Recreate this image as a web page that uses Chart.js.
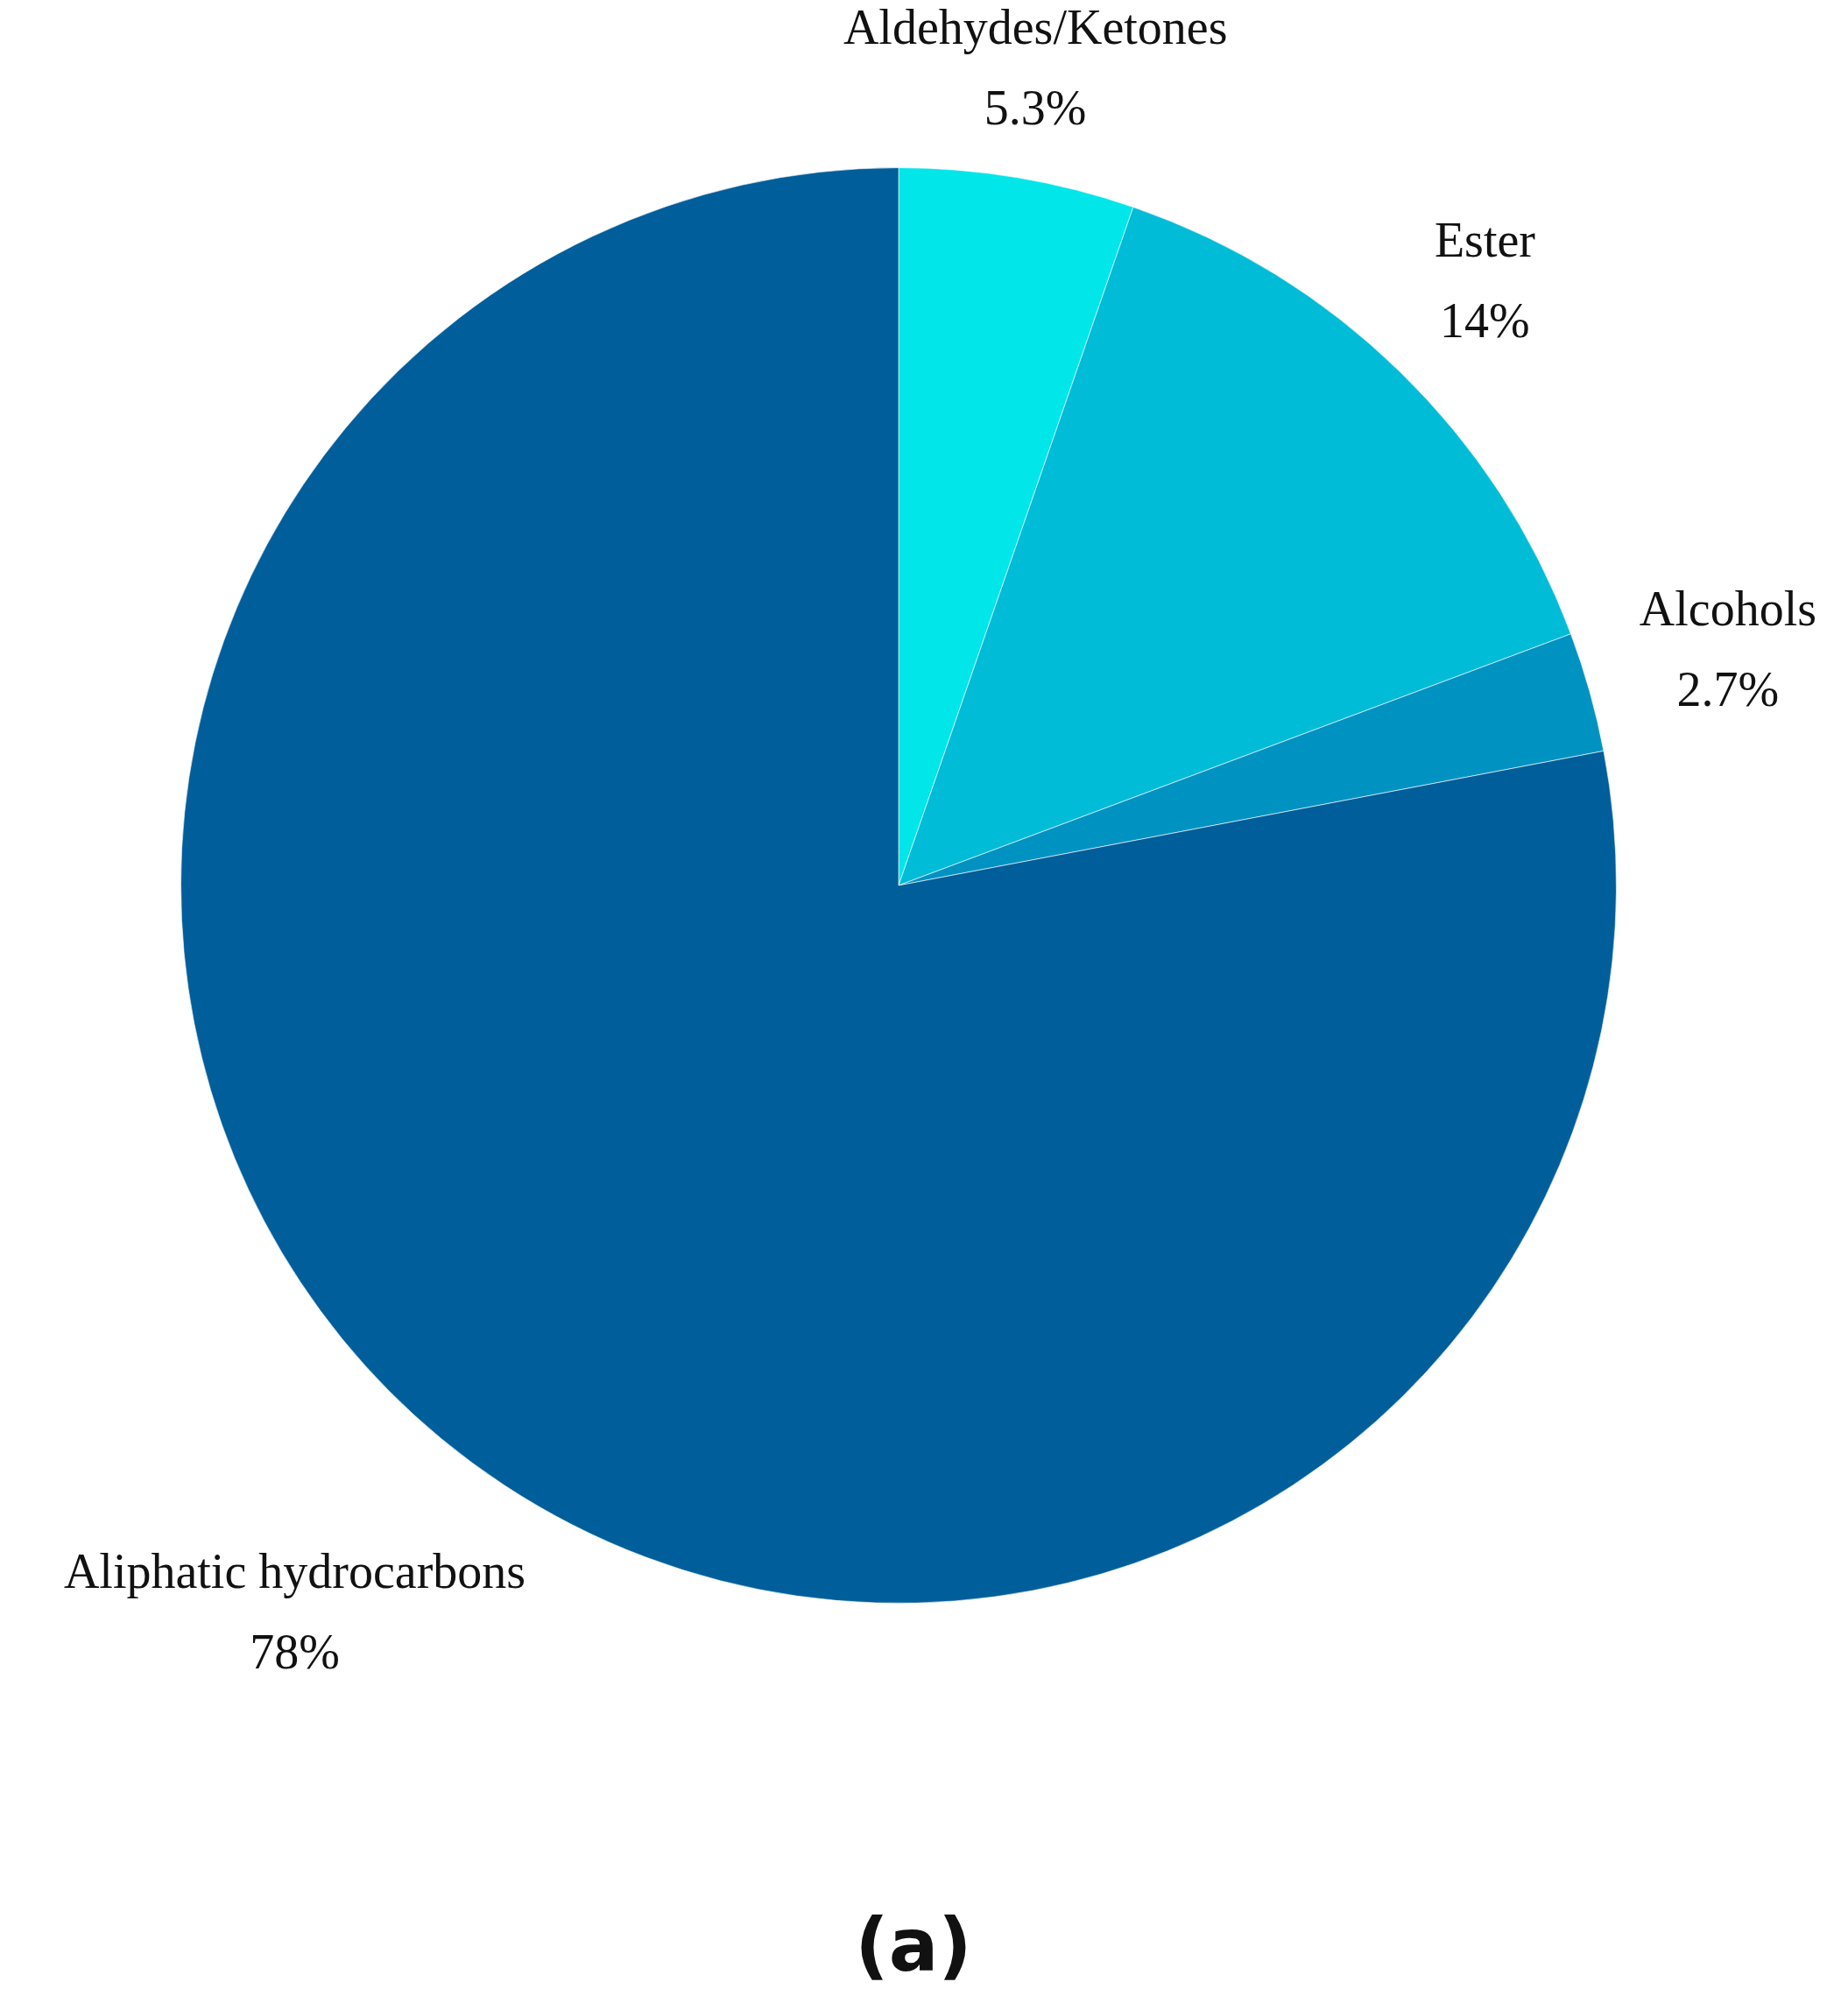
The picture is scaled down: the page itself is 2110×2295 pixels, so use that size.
<!DOCTYPE html>
<html>
<head>
<meta charset="utf-8">
<script src="https://cdn.jsdelivr.net/npm/chart.js@4/dist/chart.umd.min.js"></script>
<style>
  body { margin: 0; background: #fff; }
  canvas { display: block; }
</style>
</head>
<body>
<canvas id="myChart" width="2110" height="2295"></canvas>
<script>
var categories = ['Aldehydes/Ketones', 'Ester', 'Alcohols', 'Aliphatic hydrocarbons'];
var shares = [5.3, 14, 2.7, 78];
var shareLabels = ['5.3%', '14%', '2.7%', '78%'];
var sliceColors = ['#00E6E9', '#00BCD7', '#0093C2', '#005E9A'];
var labelDistance = [1.15, 1.17, 1.2, 1.32];

// labels placed around the slices, using each arc's own angles
var sliceLabels = {
    id: 'sliceLabels',
    afterDraw: function (chart) {
        var c = chart.ctx;
        var arcs = chart.getDatasetMeta(0).data;
        c.save();
        c.fillStyle = '#111';
        c.textAlign = 'center';
        c.textBaseline = 'middle';
        c.font = '56px "Liberation Serif", serif';
        arcs.forEach(function (arc, i) {
            var mid = (arc.startAngle + arc.endAngle) / 2;
            var r = arc.outerRadius * labelDistance[i];
            var x = arc.x + Math.cos(mid) * r;
            var y = arc.y + Math.sin(mid) * r;
            c.fillText(categories[i], x, y - 46);
            c.fillText(shareLabels[i], x, y + 46);
        });
        c.font = 'bold 84px "DejaVu Sans", sans-serif';
        c.fillText('(a)', chart.width / 2 - 12, 2228);
        c.restore();
    }
};

var ctx = document.getElementById('myChart').getContext('2d');
var chart = new Chart(ctx, {
    type: 'pie',
    data: {
        labels: categories,
        datasets: [{
            data: shares,
            backgroundColor: sliceColors,
            borderColor: 'rgba(255,255,255,0.6)',
            borderWidth: 1
        }]
    },
    options: {
        responsive: false,
        animation: false,
        devicePixelRatio: 1,
        layout: { padding: { left: 206, right: 264, top: 191, bottom: 464 } },
        plugins: { legend: { display: false }, tooltip: { enabled: false } }
    },
    plugins: [sliceLabels]
});
</script>
</body>
</html>
